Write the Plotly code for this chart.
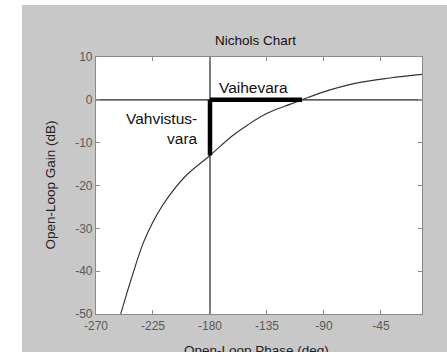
import plotly.graph_objects as go

# Open-loop frequency response read as (phase, gain) pairs
phase_deg = [-250.5, -241.6, -231.8, -218.2, -199.6, -180.0, -162.8, -149.9,
             -134.5, -116.4, -107.3, -90.8, -64.6, -38.0, -12.0]
gain_db = [-50.0, -41.3, -32.8, -25.0, -17.9, -13.0, -8.5, -5.8,
           -3.1, -1.0, 0.0, 1.8, 3.9, 5.1, 5.95]

# Stability margin references
critical_phase = -180.0
zero_db = 0.0
gain_margin_gain = -13.0      # gain at the -180 deg crossing
crossover_phase = -107.3      # phase at the 0 dB crossing

x_ticks = [-270, -225, -180, -135, -90, -45]
y_ticks = [10, 0, -10, -20, -30, -40, -50]
x_range = [-270, -12.6]
y_range = [-50, 10]

FONT = "Liberation Sans, Arial, sans-serif"
W, H = 447, 352
L, R, T, B = 96, 25, 57, 38

fig = go.Figure()

# Reference lines: 0 dB and -180 deg
fig.add_trace(go.Scatter(x=x_range, y=[zero_db, zero_db], mode="lines",
                         line=dict(color="#222222", width=1.2), hoverinfo="skip"))
fig.add_trace(go.Scatter(x=[critical_phase, critical_phase], y=y_range, mode="lines",
                         line=dict(color="#222222", width=1.2), hoverinfo="skip"))

# Nichols curve
fig.add_trace(go.Scatter(x=phase_deg, y=gain_db, mode="lines",
                         line=dict(color="#333333", width=1.1, shape="spline", smoothing=1.0),
                         hoverinfo="skip"))

# Margins drawn thick
fig.add_trace(go.Scatter(x=[critical_phase, critical_phase], y=[zero_db, gain_margin_gain],
                         mode="lines", line=dict(color="black", width=4.5), hoverinfo="skip"))
fig.add_trace(go.Scatter(x=[critical_phase, crossover_phase], y=[zero_db, zero_db],
                         mode="lines", line=dict(color="black", width=4.5), hoverinfo="skip"))

axis_common = dict(
    showgrid=False, zeroline=False, showline=True, linecolor="#8a8a8a", linewidth=1.2,
    mirror="ticks", ticks="inside", ticklen=4, tickcolor="#8a8a8a", tickwidth=1,
    tickfont=dict(family=FONT, size=12, color="#5a5a5a"),
)

fig.update_layout(
    width=W, height=H,
    margin=dict(l=L, r=R, t=T, b=B, pad=0),
    paper_bgcolor="#c8c8c8",
    plot_bgcolor="white",
    showlegend=False,
    xaxis=dict(range=x_range, tickvals=x_ticks, ticktext=[str(v) for v in x_ticks],
               **axis_common),
    yaxis=dict(range=y_range, tickvals=y_ticks, ticktext=[str(v) for v in y_ticks],
               **axis_common),
)

pw, ph = W - L - R, H - T - B


def px_x(p):
    return (p - L) / pw


def px_y(p):
    return (H - B - p) / ph


# White frame outside the grey figure area
fig.add_shape(type="rect", xref="paper", yref="paper", x0=px_x(-5), x1=px_x(22),
              y0=px_y(H + 5), y1=px_y(-5), fillcolor="white", line_width=0, layer="above")
fig.add_shape(type="rect", xref="paper", yref="paper", x0=px_x(-5), x1=px_x(W + 5),
              y0=px_y(5), y1=px_y(-5), fillcolor="white", line_width=0, layer="above")

fig.add_annotation(text="Nichols Chart", xref="paper", yref="paper",
                   x=px_x(255.5), y=px_y(40), xanchor="center", yanchor="middle",
                   showarrow=False, font=dict(family=FONT, size=13.5, color="#111111"))
fig.add_annotation(text="Open-Loop Gain (dB)", xref="paper", yref="paper",
                   x=px_x(50), y=0.5, textangle=-90, xanchor="center", yanchor="middle",
                   showarrow=False, font=dict(family=FONT, size=13.5, color="#222222"))
fig.add_annotation(text="Open-Loop Phase (deg)", xref="paper", yref="paper",
                   x=px_x(256), y=px_y(350), xanchor="center", yanchor="middle",
                   showarrow=False, font=dict(family=FONT, size=13.5, color="#222222"))

fig.add_annotation(text="Vaihevara", x=-174.5, y=2.8, xanchor="left", yanchor="middle",
                   showarrow=False, font=dict(family=FONT, size=15.5, color="#111111"))
fig.add_annotation(text="Vahvistus-<br>vara", x=-187.9, y=-6.6, xanchor="right",
                   yanchor="middle", align="right", showarrow=False,
                   font=dict(family=FONT, size=15.5, color="#111111"))

fig.write_html("out.html")
